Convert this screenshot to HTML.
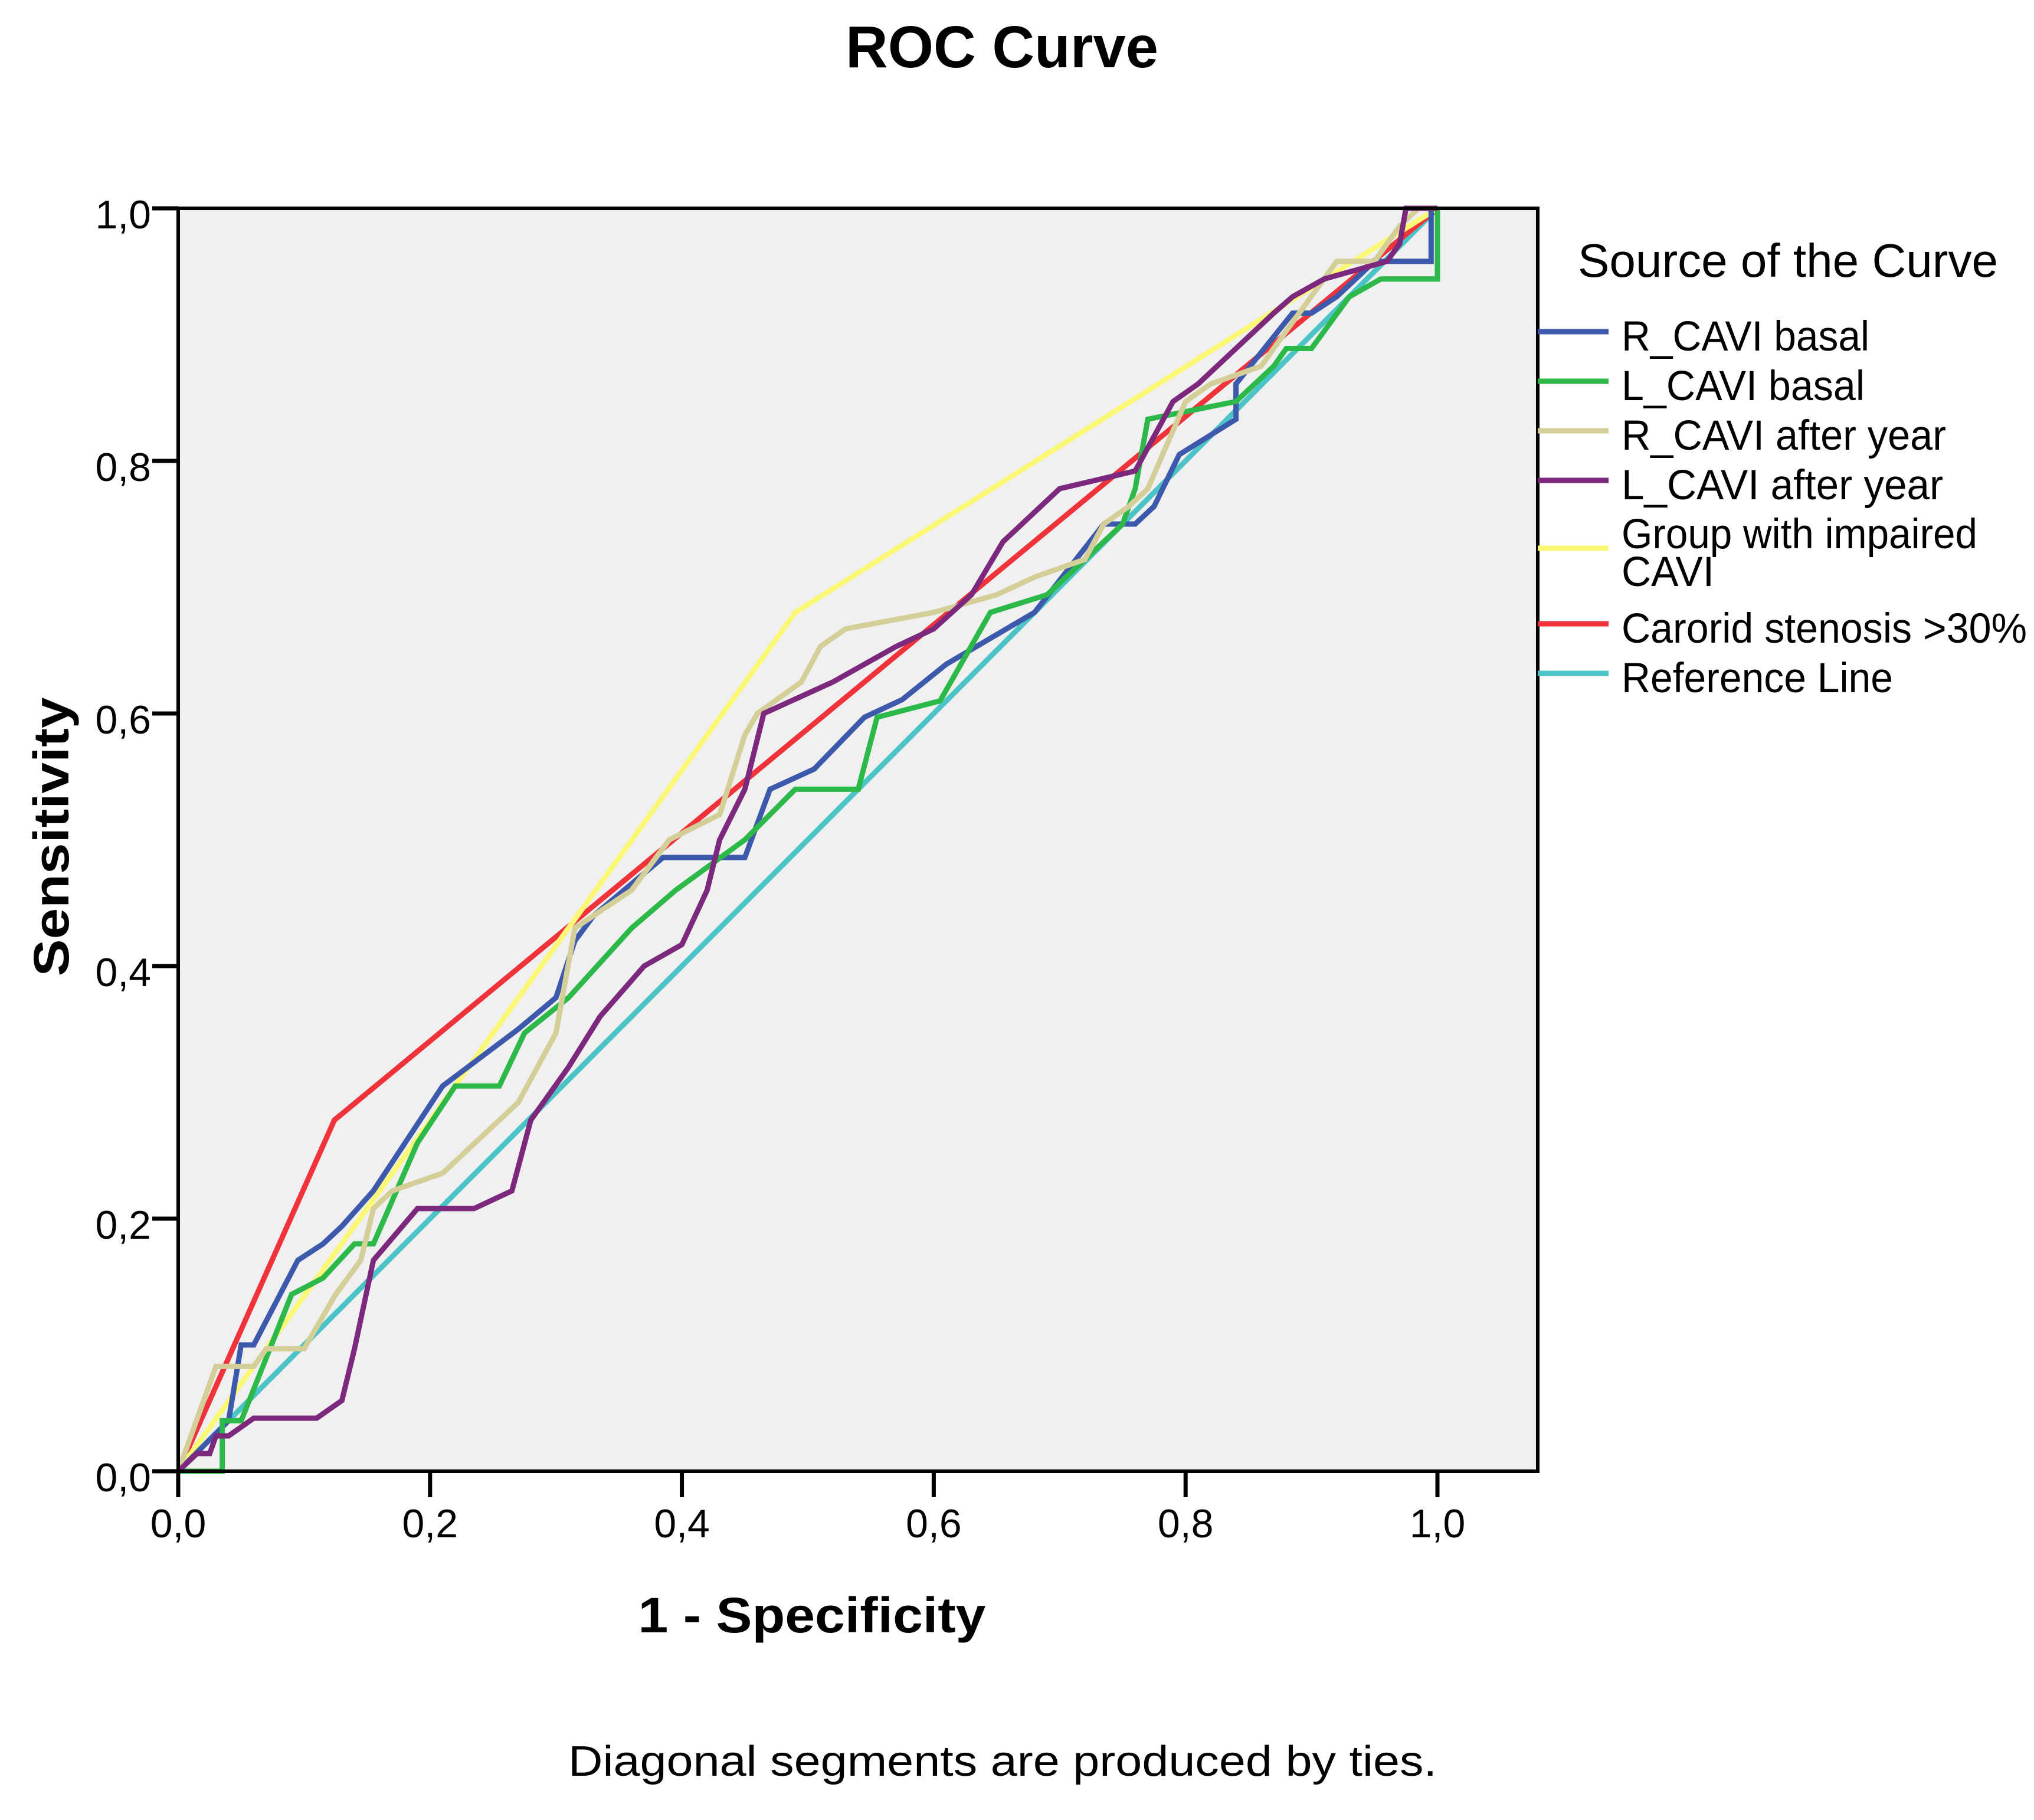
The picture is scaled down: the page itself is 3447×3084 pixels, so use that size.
<!DOCTYPE html>
<html><head><meta charset="utf-8"><style>
html,body{margin:0;padding:0;background:#fff}
svg{display:block}
text{font-family:"Liberation Sans",Arial,sans-serif;fill:#000}
</style></head><body>
<svg id="chart" xmlns="http://www.w3.org/2000/svg" width="3447" height="3084" viewBox="0 0 3447 3084">
<rect x="0" y="0" width="3447" height="3084" fill="#fff"/>
<text x="1698" y="114" text-anchor="middle" font-size="100" font-weight="bold" textLength="530" lengthAdjust="spacingAndGlyphs">ROC Curve</text>
<rect x="302" y="353" width="2304" height="2140" fill="#f0f0f0"/>
<g id="series"></g>
<rect x="302" y="353" width="2304" height="2140" fill="none" stroke="#000" stroke-width="6"/>
<g id="axes"></g>
<text x="1376" y="2766" text-anchor="middle" font-size="84" font-weight="bold" textLength="589" lengthAdjust="spacingAndGlyphs">1 - Specificity</text>
<text transform="translate(116,1418) rotate(-90)" x="0" y="0" text-anchor="middle" font-size="84" font-weight="bold" textLength="473" lengthAdjust="spacingAndGlyphs">Sensitivity</text>
<text x="1699" y="3009" text-anchor="middle" font-size="72" textLength="1472" lengthAdjust="spacingAndGlyphs">Diagonal segments are produced by ties.</text>
<text x="2674" y="469" font-size="80" textLength="712" lengthAdjust="spacingAndGlyphs">Source of the Curve</text>
<g id="legend"></g>
</svg>
<script>
var categories = ["R_CAVI basal","L_CAVI basal","R_CAVI after year","L_CAVI after year","Group with impaired CAVI","Carorid stenosis >30%","Reference Line"];
var rBasalX = [0,0.04,0.05,0.06,0.095,0.115,0.13,0.155,0.21,0.23,0.27,0.30,0.315,0.33,0.385,0.45,0.47,0.505,0.545,0.575,0.61,0.68,0.735,0.76,0.775,0.795,0.84,0.84,0.885,0.90,0.92,0.95,0.995,0.995];
var rBasalY = [0,0.04,0.10,0.10,0.167,0.18,0.194,0.222,0.305,0.32,0.35,0.375,0.42,0.44,0.486,0.486,0.54,0.556,0.597,0.611,0.639,0.68,0.75,0.75,0.764,0.805,0.833,0.861,0.917,0.917,0.93,0.958,0.958,1.0];
var lBasalX = [0,0.035,0.035,0.05,0.09,0.115,0.14,0.155,0.19,0.22,0.255,0.275,0.31,0.36,0.395,0.45,0.49,0.54,0.555,0.605,0.645,0.69,0.75,0.76,0.77,0.84,0.87,0.88,0.90,0.93,0.955,1.0,1.0];
var lBasalY = [0,0,0.04,0.04,0.14,0.153,0.18,0.18,0.26,0.305,0.305,0.347,0.375,0.43,0.46,0.5,0.54,0.54,0.597,0.61,0.68,0.694,0.75,0.778,0.833,0.847,0.875,0.889,0.889,0.93,0.944,0.944,1.0];
var rAfterX = [0,0.03,0.06,0.07,0.10,0.125,0.145,0.155,0.17,0.21,0.27,0.30,0.315,0.33,0.36,0.39,0.43,0.45,0.46,0.495,0.51,0.53,0.60,0.65,0.68,0.72,0.735,0.755,0.77,0.80,0.82,0.86,0.88,0.92,0.95,0.97,0.985,1.0];
var rAfterY = [0,0.083,0.083,0.097,0.097,0.14,0.167,0.208,0.222,0.236,0.292,0.347,0.43,0.44,0.46,0.5,0.52,0.583,0.6,0.625,0.653,0.667,0.68,0.694,0.708,0.722,0.75,0.764,0.778,0.847,0.861,0.875,0.903,0.958,0.958,0.986,1.0,1.0];
var lAfterX = [0,0.015,0.025,0.03,0.04,0.06,0.11,0.13,0.14,0.155,0.19,0.235,0.265,0.28,0.31,0.335,0.37,0.40,0.42,0.43,0.45,0.465,0.52,0.57,0.60,0.63,0.655,0.70,0.76,0.79,0.81,0.84,0.87,0.885,0.91,0.96,0.97,0.975,1.0];
var lAfterY = [0,0.014,0.014,0.028,0.028,0.042,0.042,0.056,0.097,0.167,0.208,0.208,0.222,0.278,0.32,0.36,0.40,0.417,0.46,0.5,0.54,0.6,0.625,0.653,0.667,0.694,0.736,0.778,0.792,0.847,0.861,0.889,0.917,0.93,0.944,0.958,0.972,1.0,1.0];
var groupX = [0,0.49,1];
var groupY = [0,0.68,1];
var stenX = [0,0.124,1];
var stenY = [0,0.278,1];
var refX = [0,1];
var refY = [0,1];
var xTicks = [0,0.2,0.4,0.6,0.8,1.0];
var xTickLabels = ["0,0","0,2","0,4","0,6","0,8","1,0"];
var yTicks = [0,0.2,0.4,0.6,0.8,1.0];
var yTickLabels = ["0,0","0,2","0,4","0,6","0,8","1,0"];

var NS = "http://www.w3.org/2000/svg";
function X(v){ return 302 + v * 2134; }
function Y(v){ return 2493 - v * 2140; }
var colors = ["#3d59ab","#2db84a","#d4cf99","#7b287d","#fbf877","#f0323a","#4bc3c7"];
var xs = [rBasalX,lBasalX,rAfterX,lAfterX,groupX,stenX,refX];
var ys = [rBasalY,lBasalY,rAfterY,lAfterY,groupY,stenY,refY];
var seriesNames = ["series-r-cavi-basal","series-l-cavi-basal","series-r-cavi-after-year","series-l-cavi-after-year","series-group-impaired-cavi","series-carotid-stenosis","reference-line"];
var order = [6,5,4,0,1,2,3];
var sg = document.getElementById("series");
order.forEach(function(i){
  var pts = xs[i].map(function(x,k){ return X(x).toFixed(1)+","+Y(ys[i][k]).toFixed(1); }).join(" ");
  var pl = document.createElementNS(NS,"polyline");
  pl.setAttribute("points", pts);
  pl.setAttribute("fill","none");
  pl.setAttribute("stroke", colors[i]);
  pl.setAttribute("stroke-width","9");
  pl.setAttribute("stroke-linejoin","miter");
  
  
  sg.appendChild(pl);
});
var ag = document.getElementById("axes");
xTicks.forEach(function(v,k){
  var l = document.createElementNS(NS,"line");
  l.setAttribute("x1",X(v)); l.setAttribute("x2",X(v));
  l.setAttribute("y1",2493); l.setAttribute("y2",2537);
  l.setAttribute("stroke","#000"); l.setAttribute("stroke-width","7");
  
  
  ag.appendChild(l);
  var t = document.createElementNS(NS,"text");
  t.setAttribute("x",X(v)); t.setAttribute("y",2605);
  t.setAttribute("text-anchor","middle"); t.setAttribute("font-size","68");
  t.textContent = xTickLabels[k];
  
  
  ag.appendChild(t);
});
yTicks.forEach(function(v,k){
  var l = document.createElementNS(NS,"line");
  l.setAttribute("x1",258); l.setAttribute("x2",302);
  l.setAttribute("y1",Y(v)); l.setAttribute("y2",Y(v));
  l.setAttribute("stroke","#000"); l.setAttribute("stroke-width","7");
  
  
  ag.appendChild(l);
  var t = document.createElementNS(NS,"text");
  t.setAttribute("x",256); t.setAttribute("y",Y(v)+34);
  t.setAttribute("text-anchor","end"); t.setAttribute("font-size","68");
  t.textContent = yTickLabels[k];
  
  
  ag.appendChild(t);
});
var lg = document.getElementById("legend");
var lineYs = [562,646,730,814,929,1057,1141];
var textYs = [[594],[678],[762],[846],[929,993],[1089],[1173]];
var textLines = [["R_CAVI basal"],["L_CAVI basal"],["R_CAVI after year"],["L_CAVI after year"],["Group with impaired","CAVI"],["Carorid stenosis >30%"],["Reference Line"]];
var textWidths = [[420],[412],[550],[545],[603,157],[687],[460]];
categories.forEach(function(c,i){
  var g = document.createElementNS(NS,"g");
  
  
  var l = document.createElementNS(NS,"line");
  l.setAttribute("x1",2606); l.setAttribute("x2",2726);
  l.setAttribute("y1",lineYs[i]); l.setAttribute("y2",lineYs[i]);
  l.setAttribute("stroke",colors[i]); l.setAttribute("stroke-width","9");
  
  
  g.appendChild(l);
  textLines[i].forEach(function(s,j){
    var t = document.createElementNS(NS,"text");
    t.setAttribute("x",2748); t.setAttribute("y",textYs[i][j]);
    t.setAttribute("font-size","71");
    t.setAttribute("textLength",textWidths[i][j]);
    t.setAttribute("lengthAdjust","spacingAndGlyphs");
    t.textContent = s;
    
    
    g.appendChild(t);
  });
  lg.appendChild(g);
});
</script>
</body></html>
